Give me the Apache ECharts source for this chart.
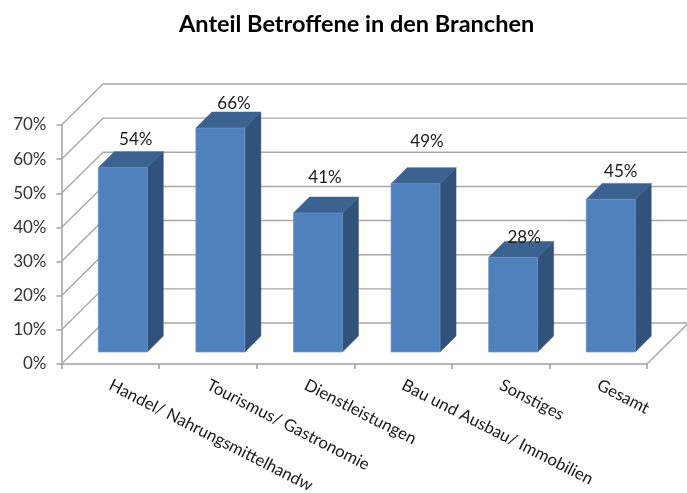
<!DOCTYPE html>
<html>
<head>
<meta charset="utf-8">
<style>html,body{margin:0;padding:0;background:#fff}#main{width:687px;height:493px}</style>
<script src="https://cdn.jsdelivr.net/npm/echarts@6/dist/echarts.min.js"></script>
</head>
<body>
<div id="main"></div>
<script>
var categories = ['Handel/ Nahrungsmittelhandw', 'Tourismus/ Gastronomie', 'Dienstleistungen', 'Bau und Ausbau/ Immobilien', 'Sonstiges', 'Gesamt'];
var anteil = [54, 65.6, 40.7, 49.3, 27.7, 44.7];
var yTicks = [0, 10, 20, 30, 40, 50, 60, 70];

// labels were moved by hand in the original
var labelDx = [5, 5.6, -1, 3.4, 3, 2];
var labelDy = [-12, -9, -20, -26, -4, -12];

// fake 3D, all in px
var wallDx = 41.5, wallDy = -41;
var barDepth = 16, barShiftX = 12.5, barShiftY = -12, barWidth = 49;

var myChart = echarts.init(document.getElementById('main'));

function renderWall(params, api) {
    var c = params.coordSys;
    var y = api.coord([0, api.value(0)])[1];
    var left = c.x, right = c.x + c.width;
    var style = { stroke: '#a8a8a8', lineWidth: 1.4, fill: null };
    var children = [{
        type: 'polyline',
        shape: { points: [[left, y], [left + wallDx, y + wallDy], [right + wallDx, y + wallDy]] },
        style: style
    }];
    if (api.value(0) === 0) {
        // floor edge on the right
        children.push({
            type: 'polyline',
            shape: { points: [[right, y], [right + wallDx, y + wallDy]] },
            style: style
        });
    }
    return { type: 'group', children: children };
}

function renderBar(params, api) {
    var i = api.value(0);
    var top = api.coord([i, api.value(1)]);
    var base = api.coord([i, 0]);
    var x0 = top[0] + barShiftX - barWidth / 2, x1 = x0 + barWidth;
    var y0 = top[1] + barShiftY, y1 = base[1] + barShiftY;
    var d = barDepth;
    return {
        type: 'group',
        children: [
            { type: 'polygon', shape: { points: [[x1, y0], [x1 + d, y0 - d], [x1 + d, y1 - d], [x1, y1]] },
              style: { fill: '#31527a', stroke: '#31527a', lineWidth: 0.5 } },
            { type: 'polygon', shape: { points: [[x0, y0], [x0 + d, y0 - d], [x1 + d, y0 - d], [x1, y0]] },
              style: { fill: '#3b6291', stroke: '#3b6291', lineWidth: 0.5 } },
            { type: 'rect', shape: { x: x0, y: y0, width: barWidth, height: y1 - y0 },
              style: { fill: '#4f81bd', stroke: '#6f97c9', lineWidth: 0.7 } },
            { type: 'text', style: {
                text: Math.round(api.value(1)) + '%',
                x: x0 + barWidth / 2 + d / 2 + labelDx[i],
                y: y0 - d + labelDy[i],
                align: 'center', verticalAlign: 'middle',
                font: '17px Lato', fill: '#1a1a1a'
            } }
        ]
    };
}

var option = {
    backgroundColor: '#fff',
    animation: false,
    title: {
        text: 'Anteil Betroffene in den Branchen',
        left: 174,
        top: 7,
        textStyle: { fontFamily: 'Lato', fontSize: 23.5, fontWeight: 'bold', color: '#000' }
    },
    grid: { left: 61.5, top: 125, width: 585.5, height: 239, outerBoundsMode: 'none' },
    xAxis: {
        type: 'category',
        data: categories,
        axisLine: { lineStyle: { color: '#a0a0a0', width: 1.5 } },
        axisTick: { show: true, length: 5, lineStyle: { color: '#a0a0a0', width: 1.5 } },
        axisLabel: {
            interval: 0, rotate: -27, margin: 20,
            fontFamily: 'Lato', fontSize: 16.7, color: '#1a1a1a'
        }
    },
    yAxis: {
        type: 'value',
        min: 0, max: 70, interval: 10,
        splitLine: { show: false },
        axisLine: { show: true, lineStyle: { color: '#a0a0a0', width: 1.5 } },
        axisTick: { show: true, length: 5, lineStyle: { color: '#a0a0a0', width: 1.5 } },
        axisLabel: {
            margin: 15,
            padding: [3, 0, 0, 0],
            formatter: '{value}%',
            fontFamily: 'Lato', fontSize: 17, color: '#333'
        }
    },
    series: [
        { type: 'custom', renderItem: renderWall, data: yTicks.map(function (t) { return [t]; }),
          encode: { y: 0 }, clip: false, silent: true, z: 1 },
        { type: 'custom', renderItem: renderBar,
          data: anteil.map(function (v, i) { return [i, v]; }),
          encode: { x: 0, y: 1 }, clip: false, z: 2 }
    ]
};
myChart.setOption(option);
</script>
</body>
</html>
